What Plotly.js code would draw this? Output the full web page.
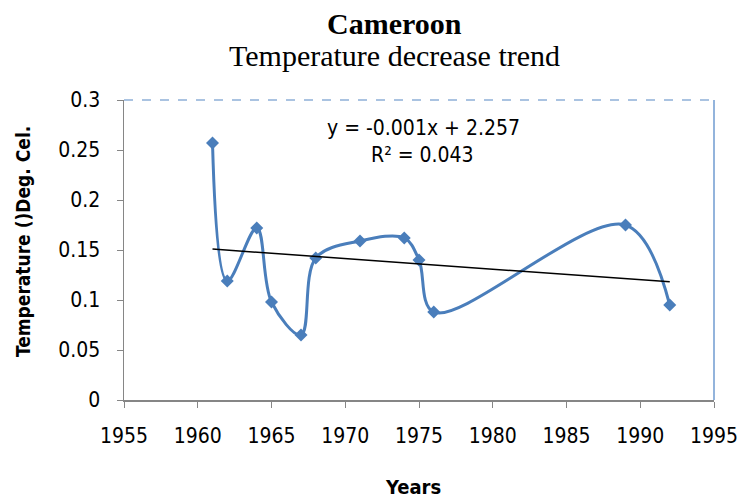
<!DOCTYPE html>
<html>
<head>
<meta charset="utf-8">
<script src="https://cdn.plot.ly/plotly-3.0.1.min.js"></script>
<style>html,body{margin:0;padding:0;background:#fff;}#chart{width:740px;height:499px;}</style>
</head>
<body>
<div id="chart"></div>
<script>
const years = [1961, 1962, 1964, 1965, 1967, 1968, 1971, 1974, 1975, 1976, 1989, 1992];
const temps = [0.257, 0.119, 0.172, 0.098, 0.065, 0.142, 0.159, 0.162, 0.140, 0.088, 0.175, 0.095];
const xTicks = [1955, 1960, 1965, 1970, 1975, 1980, 1985, 1990, 1995];
const trendText = ["y = -0.001x + 2.257", "R² = 0.043"];

// least-squares trend line
const n = years.length;
const mx = years.reduce((a, b) => a + b, 0) / n;
const my = temps.reduce((a, b) => a + b, 0) / n;
let sxy = 0, sxx = 0;
for (let i = 0; i < n; i++) { sxy += (years[i] - mx) * (temps[i] - my); sxx += (years[i] - mx) ** 2; }
const slope = sxy / sxx, icpt = my - slope * mx;
const tx = [years[0], years[n - 1]];
const ty = tx.map(x => slope * x + icpt);

const SANS = '"DejaVu Sans Condensed", "Liberation Sans", Arial, sans-serif';
const SERIF = '"Liberation Serif", "Times New Roman", serif';
const tickFont = {family: SANS, size: 21, color: '#000'};

const data = [
  {x: years, y: temps, type: 'scatter', mode: 'lines+markers',
   line: {shape: 'spline', smoothing: 1, color: '#4a7ebb', width: 3},
   marker: {symbol: 'diamond', size: 10, color: '#4a7ebb'}, showlegend: false, hoverinfo: 'skip'},
  {x: tx, y: ty, type: 'scatter', mode: 'lines', line: {color: '#000', width: 1.5}, showlegend: false, hoverinfo: 'skip'}
];

const layout = {
  width: 740, height: 499,
  margin: {l: 124, r: 26, t: 100, b: 99},
  paper_bgcolor: '#fff', plot_bgcolor: '#fff',
  showlegend: false,
  xaxis: {range: [1955, 1995], tickvals: xTicks, ticktext: xTicks.map(String), showgrid: false, zeroline: false,
          showline: true, linecolor: '#868686', linewidth: 1.5, ticks: 'outside', ticklen: 6, tickcolor: '#868686',
          tickfont: tickFont, ticklabelstandoff: 10},
  yaxis: {range: [0, 0.3], dtick: 0.05, tick0: 0, showgrid: false, zeroline: false,
          showline: true, linecolor: '#868686', linewidth: 1.5, ticks: 'outside', ticklen: 6, tickcolor: '#868686',
          tickfont: tickFont, ticklabelstandoff: 12},
  shapes: [
    {type: 'line', xref: 'paper', yref: 'paper', x0: 0, x1: 1, y0: 1, y1: 1, line: {color: '#8fb0d8', width: 1.5, dash: 'dash'}},
    {type: 'line', xref: 'paper', yref: 'paper', x0: 1, x1: 1, y0: 0, y1: 1, line: {color: '#6f9bd0', width: 1.5}}
  ],
  annotations: [
    {text: '<b>Cameroon</b>', xref: 'paper', yref: 'paper', x: (394 - 124) / 590, y: 1 + (100 - 23) / 300,
     xanchor: 'center', yanchor: 'middle', showarrow: false, font: {family: SERIF, size: 30, color: '#000'}},
    {text: 'Temperature decrease trend', xref: 'paper', yref: 'paper', x: (394 - 124) / 590, y: 1 + (100 - 55) / 300,
     xanchor: 'center', yanchor: 'middle', showarrow: false, font: {family: SERIF, size: 30, color: '#000'}},
    {text: trendText[0], xref: 'paper', yref: 'paper', x: (423 - 124) / 590, y: (400 - 128) / 300,
     xanchor: 'center', yanchor: 'middle', showarrow: false, font: {family: SANS, size: 21, color: '#000'}},
    {text: trendText[1], xref: 'paper', yref: 'paper', x: (422 - 124) / 590, y: (400 - 155) / 300,
     xanchor: 'center', yanchor: 'middle', showarrow: false, font: {family: SANS, size: 21, color: '#000'}},
    {text: '<b>Years</b>', xref: 'paper', yref: 'paper', x: (413 - 124) / 590, y: (400 - 487) / 300,
     xanchor: 'center', yanchor: 'middle', showarrow: false, font: {family: SANS, size: 20, color: '#000'}},
    {text: '<b>Temperature ()Deg. Cel.</b>', xref: 'paper', yref: 'paper', x: (23 - 124) / 590, y: (400 - 242) / 300,
     xanchor: 'center', yanchor: 'middle', textangle: -90, showarrow: false, font: {family: SANS, size: 19, color: '#000'}}
  ]
};

Plotly.newPlot('chart', data, layout, {displayModeBar: false, staticPlot: true});
</script>
</body>
</html>
